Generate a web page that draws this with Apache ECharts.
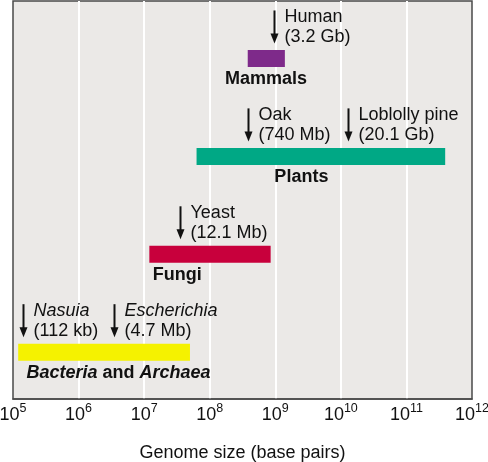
<!DOCTYPE html>
<html>
<head>
<meta charset="utf-8">
<script src="https://cdn.jsdelivr.net/npm/echarts@6/dist/echarts.min.js"></script>
<style>
html, body { margin: 0; padding: 0; background: #fff; }
#chart { width: 488px; height: 462px; }
</style>
</head>
<body>
<div id="chart"></div>
<script>
// genome size ranges (base pairs)
var groups = ['Mammals', 'Plants', 'Fungi', 'Bacteria and Archaea'];
var groupLow = [3.8e8, 6.3e7, 1.2e7, 1.2e5];
var groupHigh = [1.4e9, 3.9e11, 8.5e8, 5.0e7];
var groupLabelAt = [7.2e8, 2.5e9, 1.35e7, 1.6e5];
var groupColors = ['#7e2a8a', '#00a885', '#c8003c', '#f5f200'];

// example organisms marked with arrows
var exampleNames = ['Human', 'Oak', 'Loblolly pine', 'Yeast', 'Nasuia', 'Escherichia'];
var exampleSizes = ['3.2 Gb', '740 Mb', '20.1 Gb', '12.1 Mb', '112 kb', '4.7 Mb'];
var exampleAt = [9.5e8, 3.8e8, 1.3e10, 3.5e7, 1.4e5, 3.5e6];
var exampleGroup = [0, 1, 1, 2, 3, 3];
var exampleItalic = [false, false, false, false, true, true];

var FONT = '"Liberation Sans", Arial, Helvetica, sans-serif';
var FS = 18;

var chart = echarts.init(document.getElementById('chart'));

function renderGroup(params, api) {
    var i = params.dataIndex;
    var a = api.coord([api.value(0), api.value(2)]);
    var b = api.coord([api.value(1), api.value(2)]);
    var lab = api.coord([groupLabelAt[i], api.value(2)]);
    var cy = a[1];
    var children = [{
        type: 'rect',
        shape: { x: a[0], y: cy - 8.5, width: b[0] - a[0], height: 17 },
        style: { fill: groupColors[i] }
    }];
    var align = i < 2 ? 'center' : 'left';
    var txt = groups[i];
    var rich = {};
    if (i === 3) {
        txt = '{i|Bacteria} and {i|Archaea}';
        rich = {
            i: { fontStyle: 'italic', fontWeight: 'bold', fontSize: FS, fontFamily: FONT, fill: '#111' }
        };
    }
    children.push({
        type: 'text',
        x: lab[0], y: cy + 21,
        style: {
            text: txt, rich: rich,
            fontSize: FS, fontWeight: 'bold', fontFamily: FONT, fill: '#111',
            align: align, verticalAlign: 'middle'
        }
    });
    return { type: 'group', children: children };
}

function renderExample(params, api) {
    var i = params.dataIndex;
    var p = api.coord([api.value(0), api.value(1)]);
    var x = Math.round(p[0]) + 0.5;
    var cy = p[1];
    var top = cy - 48, tip = cy - 15;
    return {
        type: 'group',
        children: [{
            type: 'line',
            shape: { x1: x, y1: top, x2: x, y2: tip - 8 },
            style: { stroke: '#111', lineWidth: 2 }
        }, {
            type: 'polygon',
            shape: { points: [[x - 4, tip - 10], [x + 4, tip - 10], [x, tip]] },
            style: { fill: '#111' }
        }, {
            type: 'text',
            x: x + 10, y: cy - 41,
            style: {
                text: exampleNames[i], fontSize: FS, fontFamily: FONT,
                fontStyle: exampleItalic[i] ? 'italic' : 'normal',
                fill: '#111', align: 'left', verticalAlign: 'middle'
            }
        }, {
            type: 'text',
            x: x + 10, y: cy - 21,
            style: {
                text: '(' + exampleSizes[i] + ')', fontSize: FS, fontFamily: FONT,
                fill: '#111', align: 'left', verticalAlign: 'middle'
            }
        }]
    };
}

var option = {
    animation: false,
    grid: {
        left: 13, right: 16, top: 1, bottom: 63,
        outerBoundsMode: 'none', containLabel: false,
        show: true, backgroundColor: '#ebe9e7',
        borderColor: '#4a4a4a', borderWidth: 1.5
    },
    xAxis: {
        type: 'log', logBase: 10, min: 1e5, max: 1e12, splitNumber: 7,
        name: 'Genome size (base pairs)', nameLocation: 'middle', nameGap: 45,
        nameTextStyle: { fontSize: 18, fontFamily: FONT, color: '#111' },
        axisLine: { show: true, onZero: false, lineStyle: { color: '#4a4a4a', width: 1.5 } },
        axisTick: { show: false },
        splitLine: { show: true, showMinLine: false, showMaxLine: false, lineStyle: { color: '#ffffff', width: 2 } },
        axisLabel: {
            margin: 3,
            formatter: function (v) {
                var e = Math.round(Math.log(v) / Math.LN10);
                return '{b|10}{s|' + e + '}';
            },
            rich: {
                b: { fontSize: 18, fontFamily: FONT, color: '#111' },
                s: { fontSize: 12.5, fontFamily: FONT, color: '#111', padding: [0, 0, 13, 0] }
            }
        }
    },
    yAxis: {
        type: 'value', inverse: true, min: -0.587, max: 3.478,
        show: false, splitLine: { show: false }
    },
    series: [{
        type: 'custom',
        renderItem: renderGroup,
        encode: { x: [0, 1], y: 2 },
        data: groups.map(function (g, i) { return [groupLow[i], groupHigh[i], i]; }),
        z: 3
    }, {
        type: 'custom',
        renderItem: renderExample,
        encode: { x: 0, y: 1 },
        data: exampleNames.map(function (n, i) { return [exampleAt[i], exampleGroup[i]]; }),
        z: 4
    }]
};
chart.setOption(option);
</script>
</body>
</html>
